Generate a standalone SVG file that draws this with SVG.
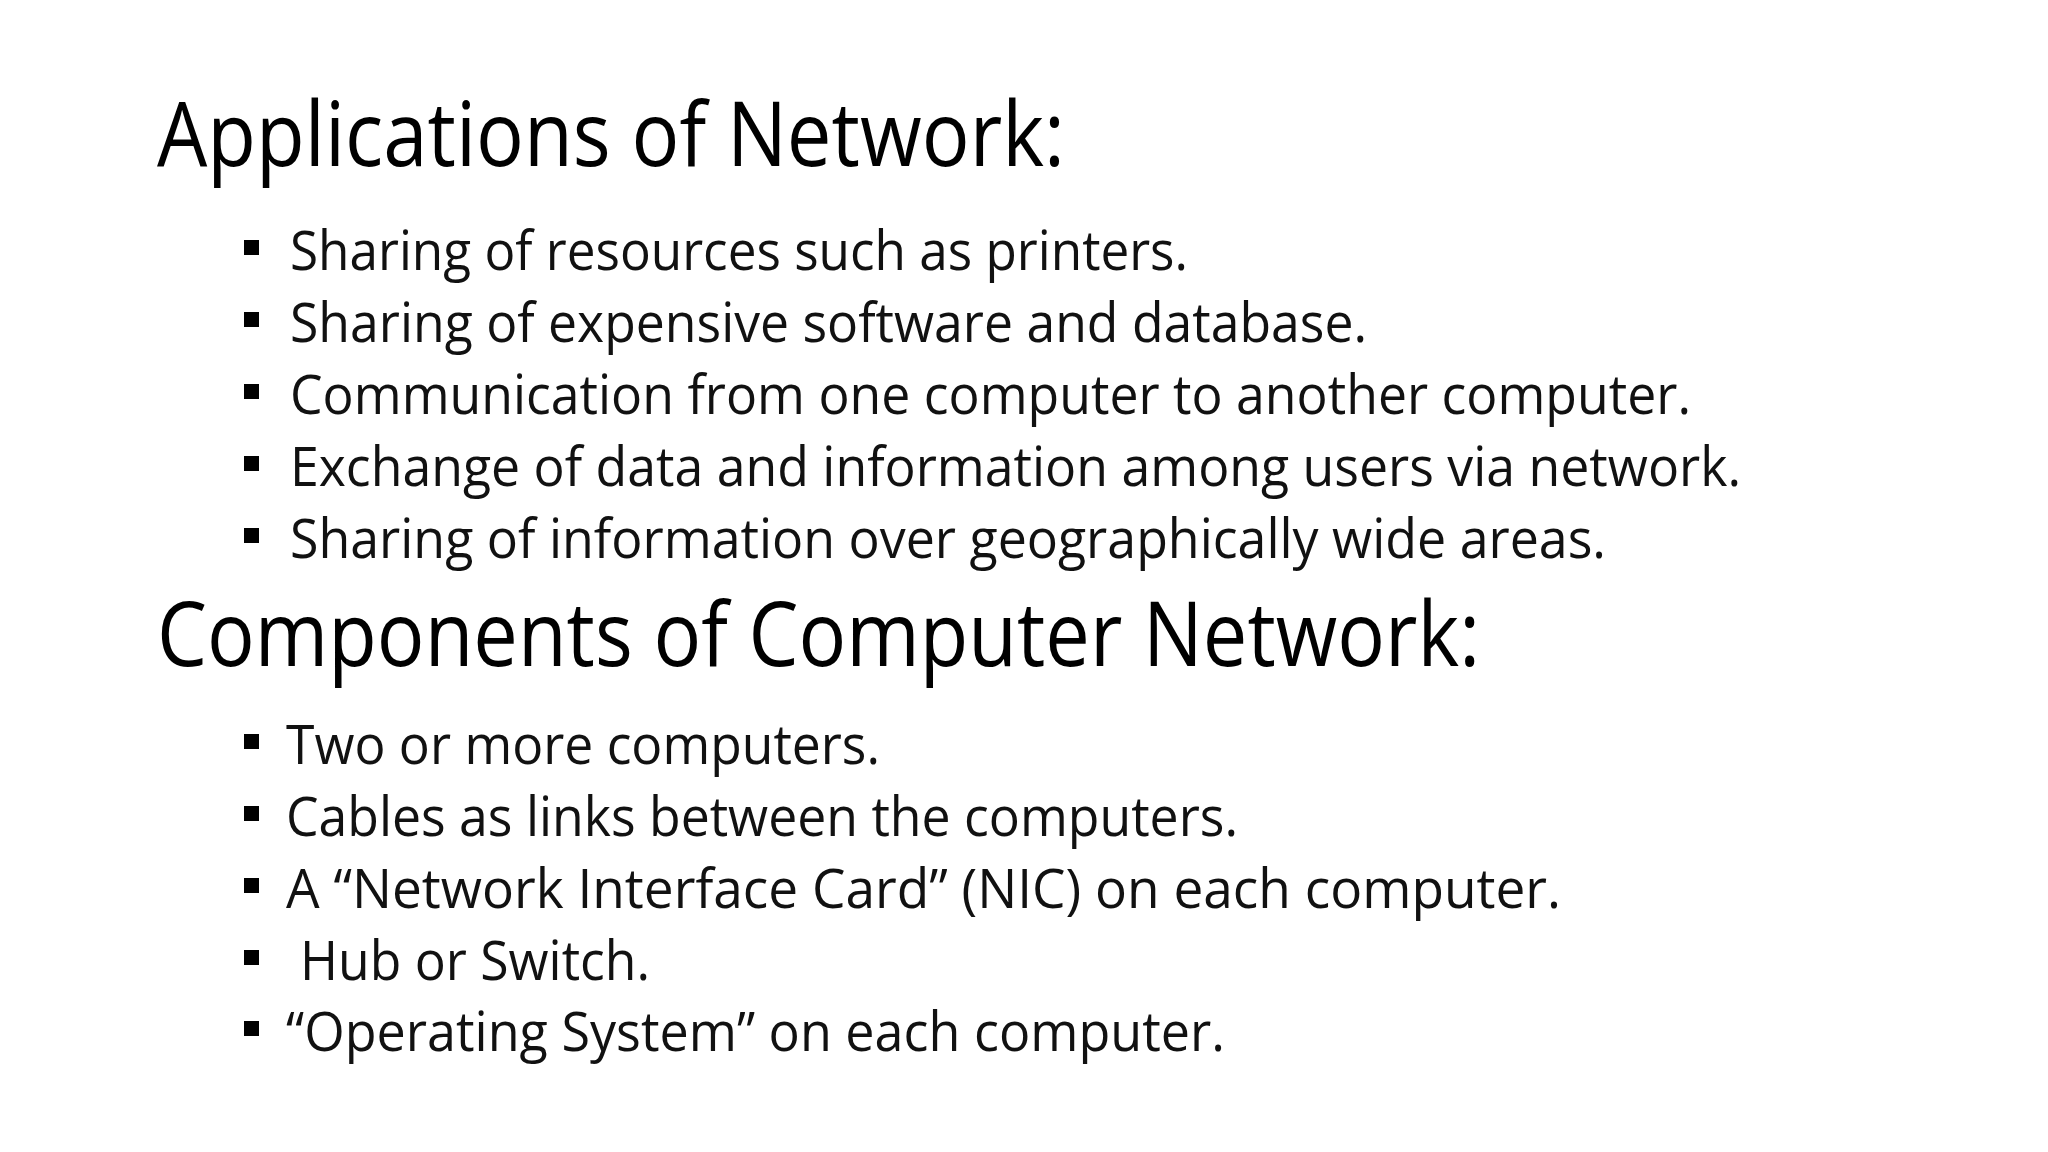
<svg xmlns="http://www.w3.org/2000/svg" width="2048" height="1152" viewBox="0 0 2048 1152">
<style>
.t{font-family:"Open Sans","Liberation Sans",sans-serif;font-size:90px;fill:#000}
.b{font-family:"Open Sans","Liberation Sans",sans-serif;font-size:54px;fill:#111}
.s{fill:#000}
</style>
<rect width="2048" height="1152" fill="#fff"/>
<g id="applications">
<text class="t" x="157" y="166" textLength="908" lengthAdjust="spacingAndGlyphs">Applications of Network:</text>
<rect class="s" x="244" y="240" width="15" height="15"/><text class="b" x="290" y="270" textLength="898" lengthAdjust="spacingAndGlyphs">Sharing of resources such as printers.</text>
<rect class="s" x="244" y="312" width="15" height="15"/><text class="b" x="290" y="342" textLength="1077" lengthAdjust="spacingAndGlyphs">Sharing of expensive software and database.</text>
<rect class="s" x="244" y="384" width="15" height="15"/><text class="b" x="290" y="414" textLength="1401" lengthAdjust="spacingAndGlyphs">Communication from one computer to another computer.</text>
<rect class="s" x="244" y="456" width="15" height="15"/><text class="b" x="290" y="486" textLength="1451" lengthAdjust="spacingAndGlyphs">Exchange of data and information among users via network.</text>
<rect class="s" x="244" y="528" width="15" height="15"/><text class="b" x="290" y="558" textLength="1316" lengthAdjust="spacingAndGlyphs">Sharing of information over geographically wide areas.</text>
</g>
<g id="components">
<text class="t" x="157" y="666" textLength="1323" lengthAdjust="spacingAndGlyphs">Components of Computer Network:</text>
<rect class="s" x="244" y="734" width="15" height="15"/><text class="b" x="286" y="764" textLength="594" lengthAdjust="spacingAndGlyphs">Two or more computers.</text>
<rect class="s" x="244" y="806" width="15" height="15"/><text class="b" x="286" y="836" textLength="952" lengthAdjust="spacingAndGlyphs">Cables as links between the computers.</text>
<rect class="s" x="244" y="878" width="15" height="15"/><text class="b" x="286" y="908" textLength="1275" lengthAdjust="spacingAndGlyphs">A “Network Interface Card”  (NIC) on each computer.</text>
<rect class="s" x="244" y="950" width="15" height="15"/><text class="b" x="300" y="980" textLength="350" lengthAdjust="spacingAndGlyphs">Hub or Switch.</text>
<rect class="s" x="244" y="1021" width="15" height="15"/><text class="b" x="286" y="1051" textLength="939" lengthAdjust="spacingAndGlyphs">“Operating System” on each computer.</text>
</g>
</svg>
